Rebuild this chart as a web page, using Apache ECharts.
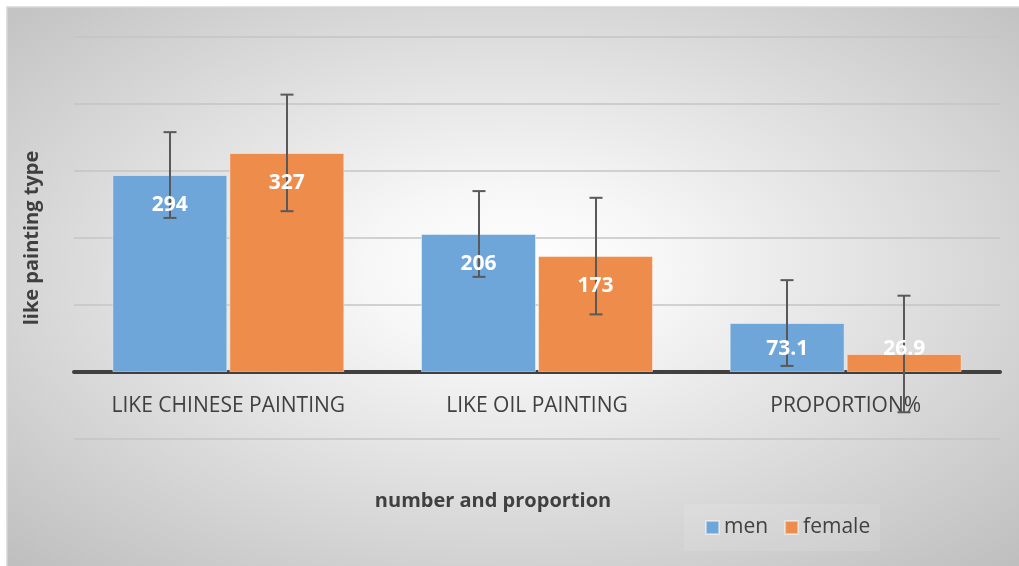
<!DOCTYPE html>
<html>
<head>
<meta charset="utf-8">
<script src="https://cdn.jsdelivr.net/npm/echarts@6/dist/echarts.min.js"></script>
<style>
html,body{margin:0;padding:0;background:#ffffff;}
#chart{width:1019px;height:566px;}
</style>
</head>
<body>
<div id="chart"></div>
<script>
// ---- data ----
const categories = ['LIKE CHINESE PAINTING', 'LIKE OIL PAINTING', 'PROPORTION%'];
const seriesNames = ['men', 'female'];
const menValues = [294, 206, 73.1];
const femaleValues = [327, 173, 26.9];
const menErrors = [64, 64, 64];
const femaleErrors = [87, 87, 87];
const yMin = -100, yMax = 500, yInterval = 100;
const yAxisTitle = 'like painting type';
const xAxisTitle = 'number and proportion';

// ---- style ----
const FONT = 'Open Sans';
const BLUE = '#6fa6d9';
const ORANGE = '#ee8c4c';
const TEXT = '#404040';
const BAR_W = 115;
const GAP_PX = 2;
const OFFSET = (BAR_W + GAP_PX) / 2;

const chart = echarts.init(document.getElementById('chart'), null, {renderer: 'canvas'});

function errorSeries(name, values, errors, dx) {
  return {
    type: 'custom',
    name: name + ' error',
    z: 3,
    silent: true,
    encode: {x: 0, y: 1},
    data: values.map((v, i) => [i, v, errors[i]]),
    renderItem: function (params, api) {
      const i = api.value(0), v = api.value(1), e = api.value(2);
      const hi = api.coord([i, v + e]);
      const lo = api.coord([i, v - e]);
      const x = Math.round(hi[0] + dx);
      const cap = 6.5;
      const st = {stroke: '#595959', lineWidth: 2};
      return {
        type: 'group',
        children: [
          {type: 'line', shape: {x1: x, y1: hi[1], x2: x, y2: lo[1]}, style: st},
          {type: 'line', shape: {x1: x - cap, y1: hi[1], x2: x + cap, y2: hi[1]}, style: st},
          {type: 'line', shape: {x1: x - cap, y1: lo[1], x2: x + cap, y2: lo[1]}, style: st}
        ]
      };
    }
  };
}

// value labels drawn above the error bars (inside end of each bar)
function labelSeries(name, values, dx) {
  return {
    type: 'custom',
    name: name + ' label',
    z: 4,
    silent: true,
    encode: {x: 0, y: 1},
    data: values.map((v, i) => [i, v]),
    renderItem: function (params, api) {
      const i = api.value(0), v = api.value(1);
      const top = api.coord([i, v]);
      const zero = api.coord([i, 0]);
      const y = Math.min(top[1] + 30, zero[1] - 23);
      return {
        type: 'text',
        x: top[0] + dx,
        y: y,
        style: {
          text: String(v),
          fill: '#ffffff',
          font: 'bold 21px "Open Sans"',
          align: 'center',
          verticalAlign: 'middle'
        }
      };
    }
  };
}

const option = {
  animation: false,
  backgroundColor: 'transparent',
  textStyle: {fontFamily: FONT},
  graphic: [
    {
      type: 'rect',
      z: -20,
      silent: true,
      x: 7, y: 7,
      scaleX: 1012 / 559,
      shape: {x: 0, y: 0, width: 559, height: 559},
      style: {
        fill: {
          type: 'radial', x: 0.5, y: 0.47, r: 0.72,
          colorStops: [
            {offset: 0, color: '#ffffff'},
            {offset: 0.2, color: '#f7f7f7'},
            {offset: 1, color: '#bfbfbf'}
          ]
        }
      }
    },
    {
      type: 'rect',
      z: -19,
      silent: true,
      shape: {x: 7, y: 7, width: 1014, height: 561},
      style: {fill: 'none', stroke: '#d6d6d6', lineWidth: 1.5}
    },
    {
      type: 'text',
      silent: true,
      x: 493, y: 501,
      style: {
        text: xAxisTitle,
        fill: TEXT,
        font: 'bold 20px "Open Sans"',
        align: 'center',
        verticalAlign: 'middle'
      }
    }
  ],
  grid: {left: 74, right: 19, top: 37, bottom: 127, containLabel: false},
  legend: {
    data: seriesNames,
    left: 684,
    top: 504,
    orient: 'horizontal',
    icon: 'rect',
    itemWidth: 13,
    itemHeight: 13,
    itemGap: 16,
    padding: [13, 10, 13, 21],
    backgroundColor: 'rgba(255,255,255,0.1)',
    textStyle: {color: TEXT, fontSize: 21, fontFamily: FONT}
  },
  xAxis: {
    type: 'category',
    data: categories,
    position: 'bottom',
    offset: -67,
    axisLine: {show: true, onZero: false, lineStyle: {color: '#404040', width: 4}},
    axisTick: {show: false},
    axisLabel: {color: TEXT, fontSize: 21, margin: 24, fontFamily: FONT},
    splitLine: {show: false}
  },
  yAxis: {
    type: 'value',
    min: yMin,
    max: yMax,
    interval: yInterval,
    axisLabel: {show: false},
    axisLine: {show: false},
    axisTick: {show: false},
    splitLine: {lineStyle: {color: '#c4c4c4', width: 1.5}},
    name: yAxisTitle,
    nameLocation: 'middle',
    nameGap: 32,
    nameRotate: 90,
    nameTextStyle: {color: TEXT, fontWeight: 'bold', fontSize: 20, fontFamily: FONT}
  },
  series: [
    {
      type: 'bar',
      name: seriesNames[0],
      data: menValues,
      barWidth: BAR_W,
      barGap: (GAP_PX / BAR_W * 100).toFixed(2) + '%',
      itemStyle: {color: BLUE, borderColor: 'rgba(255,255,255,0.45)', borderWidth: 1},
      z: 2
    },
    {
      type: 'bar',
      name: seriesNames[1],
      data: femaleValues,
      barWidth: BAR_W,
      itemStyle: {color: ORANGE, borderColor: 'rgba(255,255,255,0.45)', borderWidth: 1},
      z: 2
    },
    errorSeries(seriesNames[0], menValues, menErrors, -OFFSET),
    errorSeries(seriesNames[1], femaleValues, femaleErrors, OFFSET),
    labelSeries(seriesNames[0], menValues, -OFFSET),
    labelSeries(seriesNames[1], femaleValues, OFFSET)
  ]
};

chart.setOption(option);
</script>
</body>
</html>
